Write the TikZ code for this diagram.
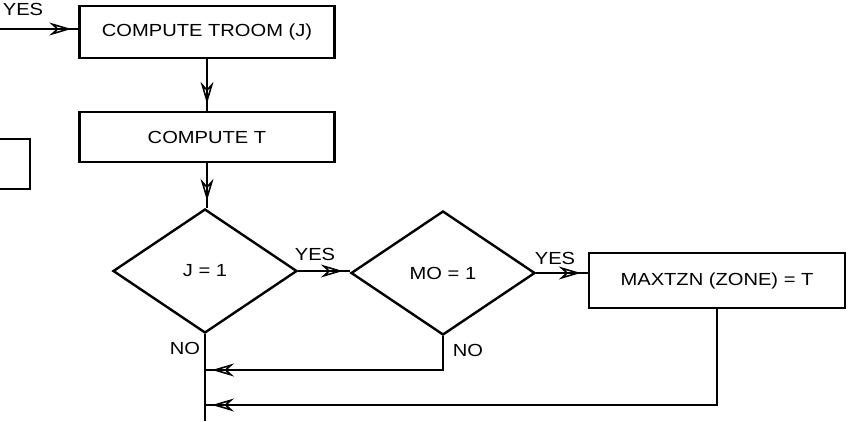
\documentclass[tikz,border=0pt]{standalone}
\usepackage{fontspec}
\setmainfont[FakeStretch=1.15]{Liberation Sans}
\usetikzlibrary{shapes.geometric, arrows.meta, decorations.markings}
\tikzset{
  font=\fontsize{17.5}{19}\selectfont,
  every node/.style = {inner sep=1pt},
  procbox/.style    = {rectangle, draw, line width=2.4pt, minimum width=255pt},
  decide/.style     = {diamond, draw, line width=2.4pt, inner sep=0pt,
                       minimum width=184pt, minimum height=124pt},
  flow/.style       = {line width=2.6pt, postaction={decorate},
                       decoration={markings, mark=at position -7pt with
                         {\arrow[line width=1.6pt]{Stealth[open,length=22pt,width=13pt]}}}},
  plain/.style      = {line width=2.6pt}
}
\begin{document}
\begin{tikzpicture}[x=1pt,y=-1pt]
  \useasboundingbox (0,0) rectangle (851,421);
  % process boxes
  \node[procbox, minimum height=52pt] (troom) at (207,32) {COMPUTE TROOM (J)};
  \node[procbox, minimum height=50pt] (compt) at (207,137) {COMPUTE T};
  \node[procbox, minimum width=256pt, minimum height=55pt] (maxt) at (717,280.5) {MAXTZN (ZONE) = T};
  % decisions
  \node[decide] (jone) at (205,271) {J = 1};
  \node[decide] (moone) at (443,273) {MO = 1};
  % box cut off at the left edge
  \draw[plain] (0,139) -- (30,139) -- (30,189) -- (0,189);
  % coordinates of the return lines
  \coordinate (yesin) at (0,29);
  \coordinate (nobot) at (205,421);
  \coordinate (nomo) at (443,370);
  \coordinate (nojoin) at (205,370);
  \coordinate (maxdown) at (717,405);
  \coordinate (maxjoin) at (205,405);
  % connectors
  \draw[flow] (yesin) -- (troom.west |- yesin);
  \draw[flow] (troom) -- (compt);
  \draw[flow] (compt.south) -- (compt.south |- jone.north);
  \draw[flow] (jone.east) -- (jone.east -| moone.west);
  \draw[flow] (moone.east) -- (moone.east -| maxt.west);
  \draw[plain] (jone.south) -- (nobot);
  \draw[flow] (moone.south) -- (nomo) -- (nojoin);
  \draw[flow] (maxt.south) -- (maxdown) -- (maxjoin);
  % labels
  \node (yestop) at (23,9) {YES};
  \node (yesj) at (315,254) {YES};
  \node (yesmo) at (555,258) {YES};
  \node (noj) at (185,348) {NO};
  \node (nomol) at (468,350) {NO};
\end{tikzpicture}
\end{document}
